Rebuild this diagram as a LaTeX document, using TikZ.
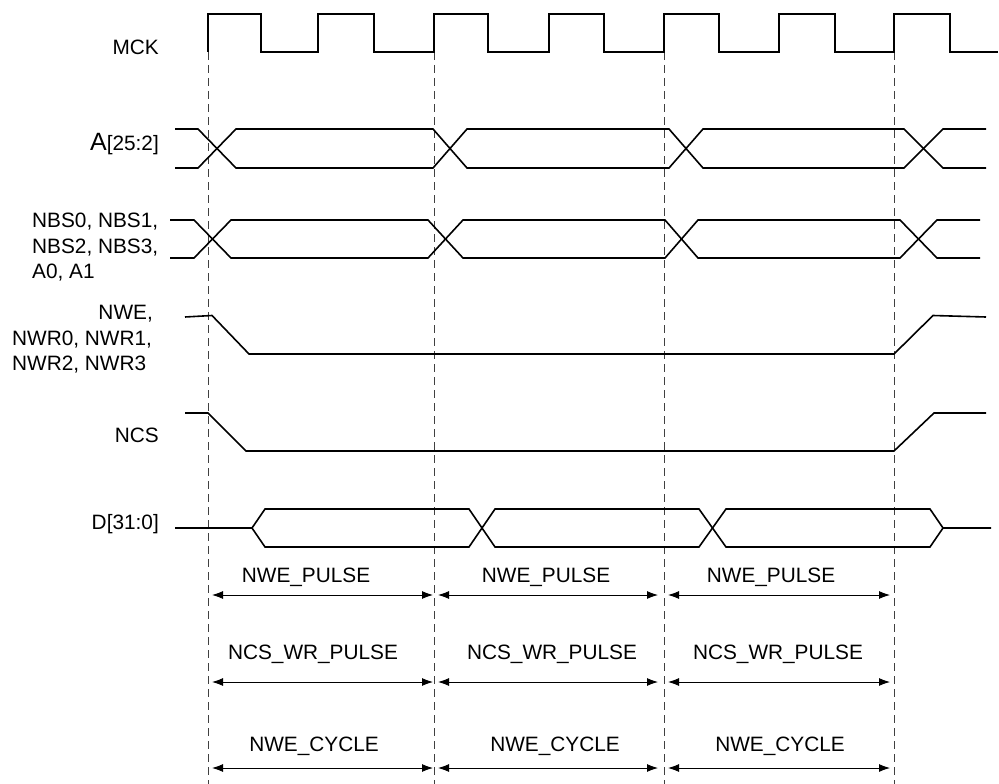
\documentclass[tikz,border=0pt]{standalone}
\usepackage{fontspec}
\setmainfont{Liberation Sans}
\usetikzlibrary{arrows.meta}
\begin{document}
\begin{tikzpicture}[x=1pt,y=-1pt,
  sig/.style={line width=1.6pt, line join=miter, line cap=butt},
  guide/.style={line width=0.9pt, draw=black!75, dash pattern=on 8pt off 5pt},
  dimline/.style={line width=0.9pt, {Latex[length=11pt,width=8pt]}-{Latex[length=11pt,width=8pt]}},
  lbl/.style={font=\fontsize{20.8}{25}\selectfont, inner sep=0pt}]
\useasboundingbox (0,0) rectangle (999,784);

% guide coordinates
\foreach \n/\x in {g1/208,g2/434,g3/664,g4/894}{
  \coordinate (\n t) at (\x,52);
  \coordinate (\n b) at (\x,784);
}
\foreach \n in {g1,g2,g3,g4}{\draw[guide] (\n t) -- (\n b);}

% MCK
\draw[sig] (208,52) -- (208,14) -- (261,14) -- (261,52) -- (318,52) -- (318,14) -- (374,14) -- (374,52)
  -- (434,52) -- (434,14) -- (488,14) -- (488,52) -- (549,52) -- (549,14) -- (604,14) -- (604,52)
  -- (664,52) -- (664,14) -- (719,14) -- (719,52) -- (779,52) -- (779,14) -- (835,14) -- (835,52)
  -- (894,52) -- (894,14) -- (950,14) -- (950,52) -- (998,52);

% A[25:2]
\draw[sig] (175,129) -- (198,129) -- (236,168) -- (433,168) -- (467,129) -- (669,129) -- (703,168) -- (904,168) -- (943,129) -- (986,129);
\draw[sig] (175,168) -- (198,168) -- (236,129) -- (433,129) -- (467,168) -- (669,168) -- (703,129) -- (904,129) -- (943,168) -- (986,168);

% NBS
\draw[sig] (170,220) -- (194,220) -- (231,258) -- (428,258) -- (463,220) -- (665,220) -- (698,258) -- (900,258) -- (937,220) -- (980,220);
\draw[sig] (170,258) -- (194,258) -- (231,220) -- (428,220) -- (463,258) -- (665,258) -- (698,220) -- (900,220) -- (937,258) -- (980,258);

% NWE
\draw[sig] (185,317) -- (212,315.5) -- (249,354) -- (894,354) -- (933,315.5) -- (986,317);

% NCS
\draw[sig] (185,413) -- (208,413) -- (246,451) -- (894,451) -- (934,413) -- (986,413);

% D[31:0]
\draw[sig] (175,528) -- (252,528) -- (265,509) -- (469,509) -- (495,547) -- (699,547) -- (726,509) -- (930,509) -- (943,528) -- (991,528);
\draw[sig] (252,528) -- (265,547) -- (469,547) -- (495,509) -- (699,509) -- (726,547) -- (930,547) -- (943,528);

% labels
\node[lbl, anchor=base east] (lmck) at (159,55) {MCK};
\node[lbl, anchor=base east] (la) at (159,150.5) {\fontsize{25}{25}\selectfont A\fontsize{20.8}{25}\selectfont[25:2]};
\node[lbl, anchor=base west] (lnbs1) at (32,227) {NBS0, NBS1,};
\node[lbl, anchor=base west] (lnbs2) at (32,253) {NBS2, NBS3,};
\node[lbl, anchor=base west] (lnbs3) at (32,278.5) {A0, A1};
\node[lbl, anchor=base east] (lnwe1) at (153,319) {NWE,};
\node[lbl, anchor=base west] (lnwe2) at (12,345.5) {NWR0, NWR1,};
\node[lbl, anchor=base west] (lnwe3) at (12,370) {NWR2, NWR3};
\node[lbl, anchor=base east] (lncs) at (159,442.5) {NCS};
\node[lbl, anchor=base east] (ld) at (159,529) {D[31:0]};

% dimension arrows
\foreach \r/\y in {p/595,w/682,c/768}{
  \coordinate (\r1a) at (212,\y); \coordinate (\r1b) at (433,\y);
  \coordinate (\r2a) at (438,\y); \coordinate (\r2b) at (658,\y);
  \coordinate (\r3a) at (668,\y); \coordinate (\r3b) at (890,\y);
}
\foreach \r in {p,w,c}{
  \foreach \i in {1,2,3}{\draw[dimline] (\r\i a) -- (\r\i b);}
}

\node[lbl, anchor=base] (tp1) at (306,582.5) {NWE\_PULSE};
\node[lbl, anchor=base] (tp2) at (546,582.5) {NWE\_PULSE};
\node[lbl, anchor=base] (tp3) at (771,582.5) {NWE\_PULSE};
\node[lbl, anchor=base] (tw1) at (313,659) {NCS\_WR\_PULSE};
\node[lbl, anchor=base] (tw2) at (552,659) {NCS\_WR\_PULSE};
\node[lbl, anchor=base] (tw3) at (778,659) {NCS\_WR\_PULSE};
\node[lbl, anchor=base] (tc1) at (314,751) {NWE\_CYCLE};
\node[lbl, anchor=base] (tc2) at (555,751) {NWE\_CYCLE};
\node[lbl, anchor=base] (tc3) at (780,751) {NWE\_CYCLE};
\end{tikzpicture}
\end{document}
